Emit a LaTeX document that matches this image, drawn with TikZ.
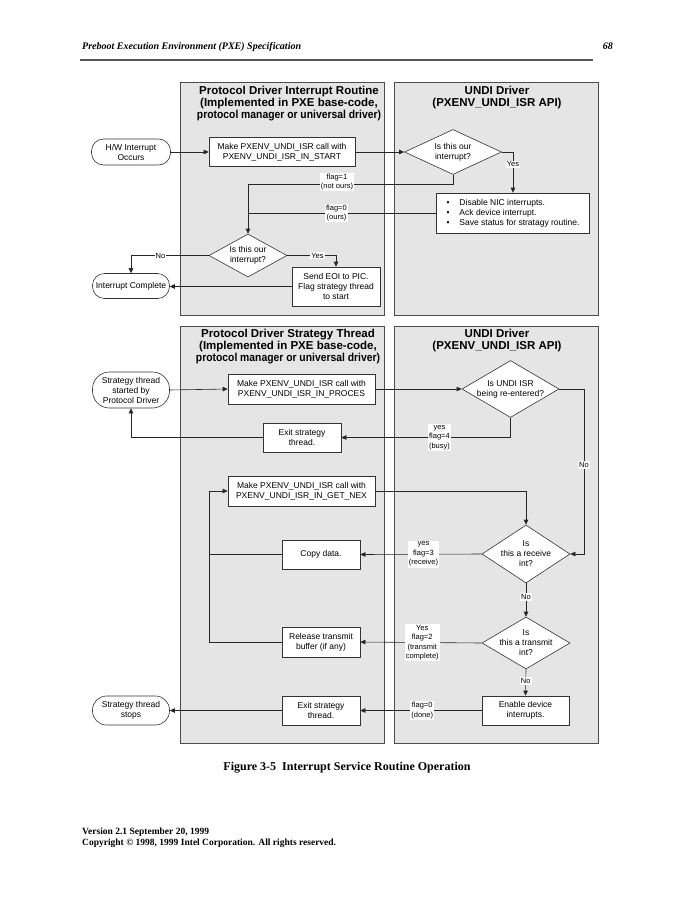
\documentclass[tikz,border=0pt]{standalone}
\usepackage{fontspec}
\setmainfont{Liberation Serif}
\newfontfamily\arial{Liberation Sans}
\usetikzlibrary{shapes.geometric,arrows.meta}
\begin{document}
\begin{tikzpicture}[x=1pt,y=-1pt,
  every node/.style={inner sep=0pt},
  panel/.style={draw=black!70, fill=black!10, line width=0.8pt, minimum width=204},
  ttl/.style={font=\arial\bfseries\fontsize{11.5}{12}\selectfont, align=center},
  box/.style={draw=black!80, fill=white, line width=0.6pt, font=\arial\fontsize{8.5}{10}\selectfont, align=center},
  term/.style={box, rounded corners=12pt},
  dia/.style={draw=black!80, fill=white, line width=0.6pt, diamond},
  dtxt/.style={font=\arial\fontsize{8.5}{10}\selectfont, align=center},
  lbl/.style={fill=white, font=\arial\fontsize{7.5}{9.5}\selectfont, align=center, inner sep=1pt},
  conn/.style={draw=black!85, line width=0.6pt},
  arr/.style={conn, -{Triangle[length=5pt,width=4.5pt]}},
  page/.style={font=\bfseries\fontsize{9.5}{11.5}\selectfont, anchor=base west}
]
\fill[white] (0,0) rectangle (695,899);
\useasboundingbox (0,0) rectangle (695,899);

% page header
\node[font=\bfseries\itshape\fontsize{10}{12}\selectfont, anchor=base west] (hdr) at (82,50) {Preboot Execution Environment (PXE) Specification};
\node[font=\bfseries\itshape\fontsize{10}{12}\selectfont, anchor=base east] (pg) at (613,50) {68};
\draw[line width=1.8pt, black!65] (80,60) -- (593,60);

% panels
\node[panel, minimum height=233] (pA) at (282,198.5) {};
\node[panel, minimum height=233] (pB) at (496,198.5) {};
\node[panel, minimum height=417] (pC) at (282,534.5) {};
\node[panel, minimum height=417] (pD) at (496,534.5) {};

\node[ttl] (tA) at (289,104) {Protocol Driver Interrupt Routine\\(Implemented in PXE base-code,\\\scalebox{0.9}[1]{protocol manager or universal driver)}};
\node[ttl] (tB) at (497,98) {UNDI Driver\\(PXENV\_UNDI\_ISR API)};
\node[ttl] (tC) at (288,347) {Protocol Driver Strategy Thread\\(Implemented in PXE base-code,\\\scalebox{0.9}[1]{protocol manager or universal driver)}};
\node[ttl] (tD) at (497,341) {UNDI Driver\\(PXENV\_UNDI\_ISR API)};

% top nodes
\node[term, minimum width=79, minimum height=26] (hw) at (131,152) {H/W Interrupt\\Occurs};
\node[box, minimum width=146, minimum height=29] (m1) at (282,152) {Make PXENV\_UNDI\_ISR call with\\PXENV\_UNDI\_ISR\_IN\_START};
\node[dia, minimum width=97, minimum height=45] (d1) at (453,152) {};
\node[dtxt] (d1t) at (d1) {Is this our\\interrupt?};
\node[box, minimum width=153, minimum height=40, align=left] (bul) at (513,213) {\begin{tabular}{@{}l@{\hspace{10pt}}l@{}}•&Disable NIC interrupts.\\•&Ack device interrupt.\\•&Save status for stratagy routine.\end{tabular}};
\node[dia, minimum width=78, minimum height=43] (d2) at (248,255.5) {};
\node[dtxt] (d2t) at (d2) {Is this our\\interrupt?};
\node[term, minimum width=77, minimum height=25] (ic) at (131,286) {Interrupt Complete};
\node[box, minimum width=88, minimum height=39] (eoi) at (336,286.5) {Send EOI to PIC.\\Flag strategy thread\\to start};

\coordinate (j1) at (248,184);

\draw[arr] (hw.east) -- (m1.west);
\draw[arr] (m1.east) -- (d1.west);
\draw[arr] (d1.east) -| node[lbl, pos=0.65] {Yes} (bul.north);
\draw[arr] (d1.south) -- (d1.south |- j1) -- node[lbl, pos=0.566, yshift=2pt] {flag=1\\(not ours)} (j1) -- (d2.north);
\draw[conn] (bul.west) -- node[lbl, pos=0.53] {flag=0\\(ours)} (bul.west -| j1);
\draw[arr] (d2.west) -| node[lbl, pos=0.31] {No} (ic.north);
\draw[arr] (d2.east) -| node[lbl, pos=0.31] {Yes} (eoi.north);
\draw[arr] (eoi.west) -- (eoi.west -| ic.east);

% bottom nodes
\node[term, rounded corners=17pt, minimum width=77, minimum height=36] (st) at (131,390) {Strategy thread\\started by\\Protocol Driver};
\node[box, minimum width=147, minimum height=30] (m2) at (301.5,389) {Make PXENV\_UNDI\_ISR call with\\PXENV\_UNDI\_ISR\_IN\_PROCES};
\node[dia, minimum width=97, minimum height=57] (d3) at (510.5,389) {};
\node[dtxt] (d3t) at (d3) {Is UNDI ISR\\being re-entered?};
\node[box, minimum width=78, minimum height=29] (ex1) at (302,437.5) {Exit strategy\\thread.};
\node[box, minimum width=147, minimum height=30] (m3) at (301.5,491) {Make PXENV\_UNDI\_ISR call with\\PXENV\_UNDI\_ISR\_IN\_GET\_NEX};
\node[dia, minimum width=88, minimum height=58] (d4) at (526,554) {};
\node[dtxt] (d4t) at (d4) {Is\\this a receive\\int?};
\node[box, minimum width=78, minimum height=29] (copy) at (321,554.5) {Copy data.};
\node[dia, minimum width=88, minimum height=52] (d5) at (526,643) {};
\node[dtxt] (d5t) at (d5) {Is\\this a transmit\\int?};
\node[box, minimum width=78, minimum height=30] (rel) at (321,642) {Release transmit\\buffer (if any)};
\node[box, minimum width=87, minimum height=29] (en) at (525.5,710.5) {Enable device\\interrupts.};
\node[box, minimum width=78, minimum height=29] (ex2) at (321,710.5) {Exit strategy\\thread.};
\node[term, minimum width=77, minimum height=29, rounded corners=14pt] (stop) at (131,710.5) {Strategy thread\\stops};

\coordinate (j3) at (584,554);
\coordinate (j4) at (209,642);

\draw[arr] (st.east) -- (m2.west);
\draw[arr] (m2.east) -- (d3.west);
\draw[arr] (d3.south) |- node[lbl, pos=0.71] {yes\\flag=4\\(busy)} (ex1.east);
\draw[arr] (ex1.west) -| (st.south);
\draw[arr] (d3.east) -| node[lbl, pos=0.73] {No} (j3) -- (d4.east);
\draw[arr] (m3.east) -| (d4.north);
\draw[arr] (d4.west) -- node[lbl, pos=0.48] {yes\\flag=3\\(receive)} (copy.east);
\draw[conn] (copy.west) -- (copy.west -| j4);
\draw[arr] (rel.west) -- (j4) -- (j4 |- m3.west) -- (m3.west);
\draw[arr] (d4.south) -- node[lbl, pos=0.41] {No} (d5.north);
\draw[arr] (d5.west) -- node[lbl, pos=0.49] {Yes\\flag=2\\(transmit\\complete)} (rel.east);
\draw[arr] (d5.south) -- node[lbl, pos=0.44] {No} (en.north);
\draw[arr] (en.west) -- node[lbl, pos=0.49] {flag=0\\(done)} (ex2.east);
\draw[arr] (ex2.west) -- (stop.east);

% caption and footer
\node[font=\bfseries\fontsize{12}{14}\selectfont, anchor=base] (cap) at (347,770) {Figure 3-5\ \ Interrupt Service Routine Operation};
\node[page] (ft1) at (82,834) {Version 2.1 September 20, 1999};
\node[page] (ft2) at (82,845.5) {Copyright © 1998, 1999 Intel Corporation. All rights reserved.};
\end{tikzpicture}
\end{document}
